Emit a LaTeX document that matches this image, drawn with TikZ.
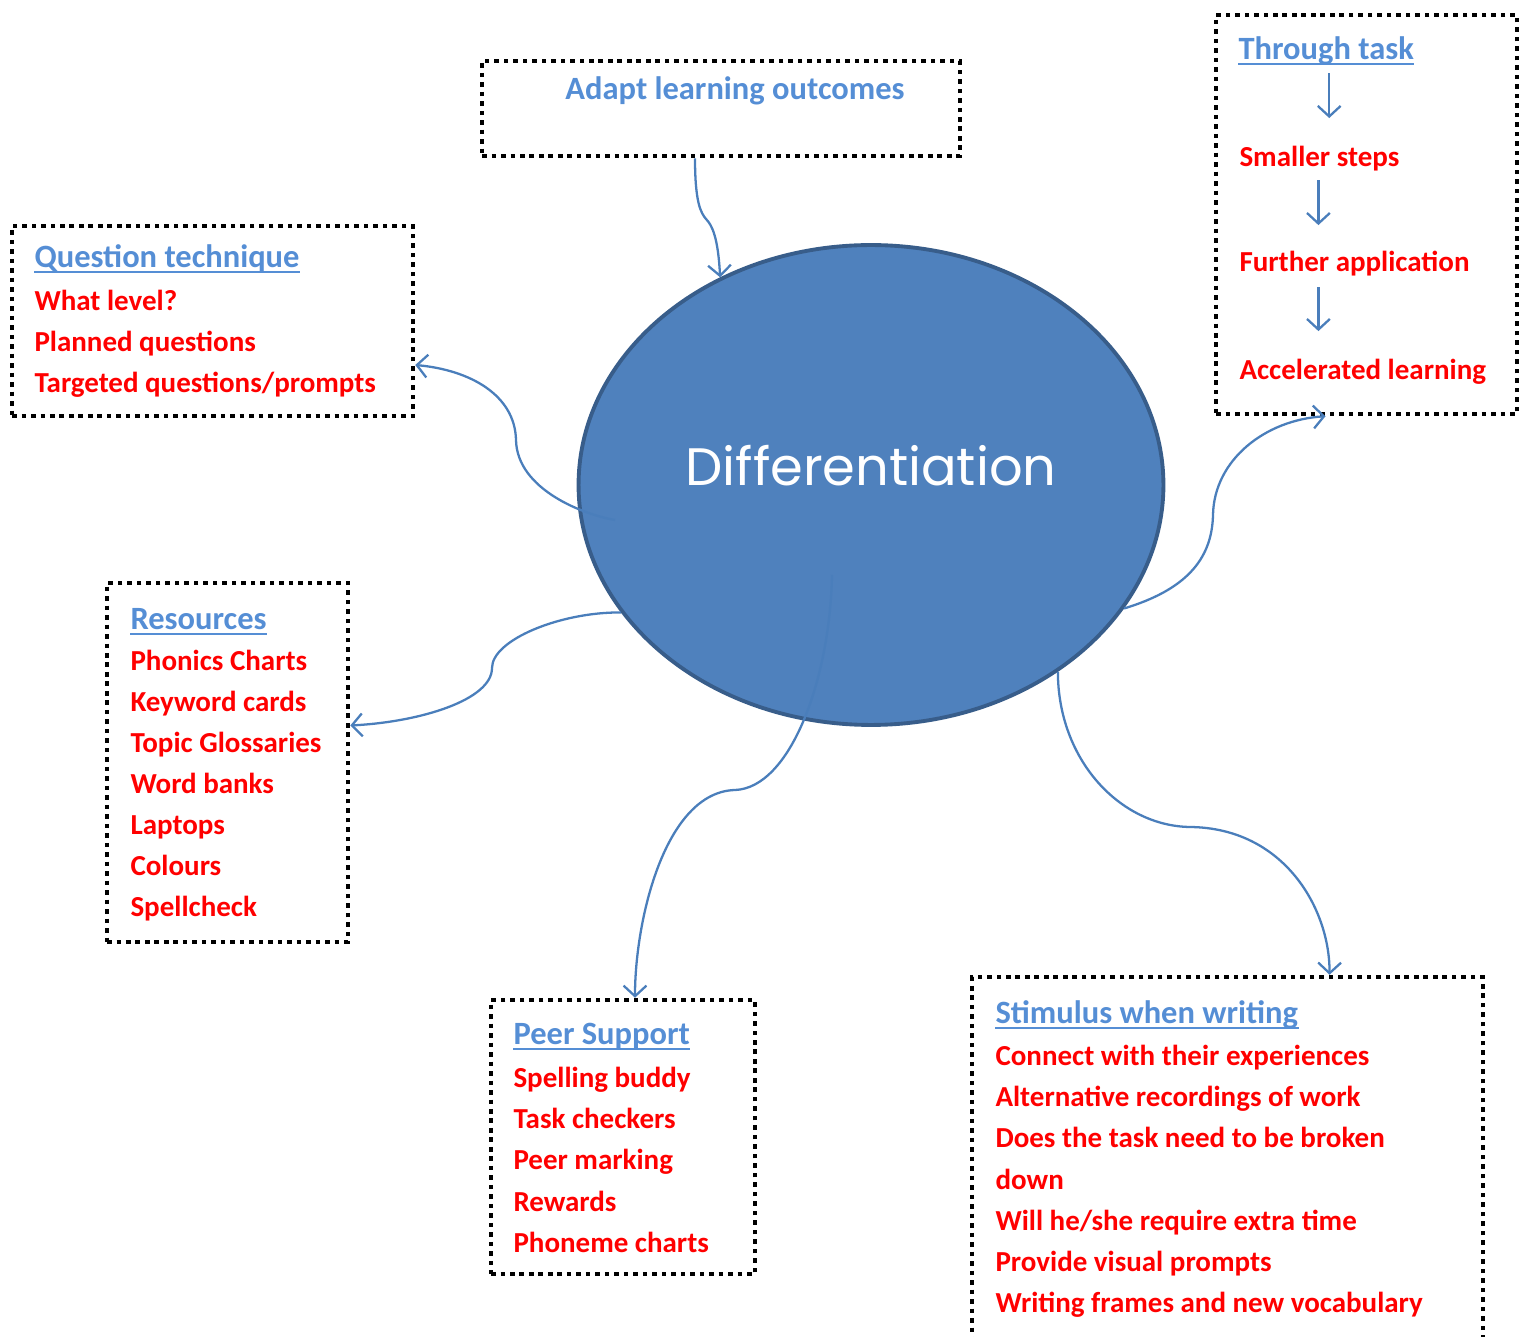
\documentclass[tikz,border=0pt]{standalone}
\usepackage{fontspec}
\setmainfont{Carlito}
\newfontfamily\difffont{Poppins}
\usetikzlibrary{arrows.meta,calc,shapes.geometric}

\definecolor{entryred}{HTML}{FF0000}
\definecolor{headblue}{HTML}{558ED5}
\definecolor{linkblue}{HTML}{4A7EBB}
\definecolor{ellfill}{HTML}{4F81BD}
\definecolor{elldraw}{HTML}{385D8A}

\begin{document}
\begin{tikzpicture}[
            x = 0.02cm, y = -0.02cm, % one unit = one pixel of the sketch
            > = {Straight Barb[length=6pt,width=13pt]}, % open arrow head
            semithick
        ]

        \tikzstyle{dotbox}=[
            draw = black,
            line width = 2.6pt,
            dash pattern = on 2.6pt off 2.8pt,
            inner sep = 0pt
        ]
        \tikzstyle{boxhead}=[text=headblue, font=\fontsize{18.5}{22}\selectfont\bfseries, inner sep=0pt, anchor=base west]
        \tikzstyle{entry}=[text=entryred, font=\fontsize{16.5}{19}\selectfont\bfseries, inner sep=0pt, anchor=base west]
        \tikzstyle{linkarrow}=[draw=linkblue, line width=1.3pt, ->]
        \tikzstyle{uline}=[draw=headblue, line width=1.2pt]

        \useasboundingbox (0,0) rectangle (1526,1337);

        % the boxes
        \node[dotbox, minimum width=9.56cm, minimum height=1.9cm] (adapt) at (721,108.5) {};
        \node[dotbox, minimum width=8.02cm, minimum height=3.8cm] (question) at (212.5,321) {};
        \node[dotbox, minimum width=6.02cm, minimum height=7.98cm] (through) at (1366.5,214.5) {};
        \node[dotbox, minimum width=4.82cm, minimum height=7.18cm] (resources) at (227.5,762.5) {};
        \node[dotbox, minimum width=5.28cm, minimum height=5.48cm] (peer) at (623,1137) {};
        \node[dotbox, minimum width=10.22cm, minimum height=7.66cm] (stimulus) at (1227.5,1168.5) {};

        % centre
        \node[ellipse, draw=elldraw, fill=ellfill, line width=2.2pt,
            minimum width=11.7cm, minimum height=9.6cm, inner sep=0pt] (diff) at (871,485) {};
        \node[text=white, font=\difffont\fontsize{30}{36}\selectfont] (difftext) at (871,466) {Differentiation};

        % texts
        \node[boxhead, anchor=base] (adapt_head) at (735,100) {Adapt learning outcomes};

        \node[boxhead] (qt_head) at (34,268) {Question technique};
        \foreach \txt [count=\i] in {What level?, Planned questions, Targeted questions/prompts}
            \node[entry] (qt_\i) at (34,270+41*\i) {\txt};

        \node[boxhead] (res_head) at (130,630) {Resources};
        \foreach \txt [count=\i] in {Phonics Charts, Keyword cards, Topic Glossaries, Word banks, Laptops, Colours, Spellcheck}
            \node[entry] (res_\i) at (130,630+41*\i) {\txt};

        \node[boxhead] (peer_head) at (513,1045) {Peer Support};
        \foreach \txt [count=\i] in {Spelling buddy, Task checkers, Peer marking, Rewards, Phoneme charts}
            \node[entry] (peer_\i) at (513,1047+41*\i) {\txt};

        \node[boxhead] (stim_head) at (995,1024) {Stimulus when writing};
        \foreach \txt [count=\i] in {Connect with their experiences, Alternative recordings of work, Does the task need to be broken, down, Will he/she require extra time, Provide visual prompts, Writing frames and new vocabulary}
            \node[entry] (stim_\i) at (995,1025+41*\i) {\txt};

        \node[boxhead] (tt_head) at (1238,60) {Through task};
        \node[entry] (tt_small) at (1239,167) {Smaller steps};
        \node[entry] (tt_further) at (1239,272) {Further application};
        \node[entry] (tt_accel) at (1239,380) {Accelerated learning};

        \foreach \h in {qt_head, res_head, peer_head, stim_head, tt_head}
            \draw[uline] ($(\h.base west)+(0,4)$) -- ($(\h.base east)+(0,4)$);

        % arrows inside through task
        \draw[linkarrow] ($(tt_head.south)+(3,7)$) -- ++(0,45);
        \draw[linkarrow] ($(tt_small.south)+(-1,8)$) -- ++(0,45);
        \draw[linkarrow] ($(tt_small.south |- tt_further.south)+(-1,10)$) -- ++(0,44);

        % connectors
        \draw[linkarrow] ($(adapt.south)+(-26,0)$) .. controls +(0,45) and +(-5,-6) .. (706,219)
            .. controls +(6,6) and +(-2,-40) .. (diff.126);
        \draw[linkarrow] ($(diff.center)+(-256,35)$) .. controls (585,515) and (517,490) .. (516,440)
            .. controls (515,395) and (470,370) .. ($(question.east)+(0,44)$);
        \draw[linkarrow] (diff.207) .. controls (560,612) and (492,640) .. (492,668)
            .. controls (492,700) and (420,722) .. ($(resources.east)+(0,-37)$);
        \draw[linkarrow] ($(diff.center)+(-39,90)$) .. controls (830,680) and (790,788) .. (735,790)
            .. controls (665,792) and (635,920) .. ($(peer.north)+(12,0)$);
        \draw[linkarrow] (diff.-45) .. controls (1058,760) and (1120,826) .. (1190,827)
            .. controls (1285,828) and (1330,910) .. ($(stimulus.north)+(102,0)$);
        \draw[linkarrow] (diff.-26) .. controls (1185,590) and (1212,560) .. (1213,515)
            .. controls (1214,460) and (1265,420) .. ($(through.south)+(-41,0)$);

    \end{tikzpicture}
\end{document}
